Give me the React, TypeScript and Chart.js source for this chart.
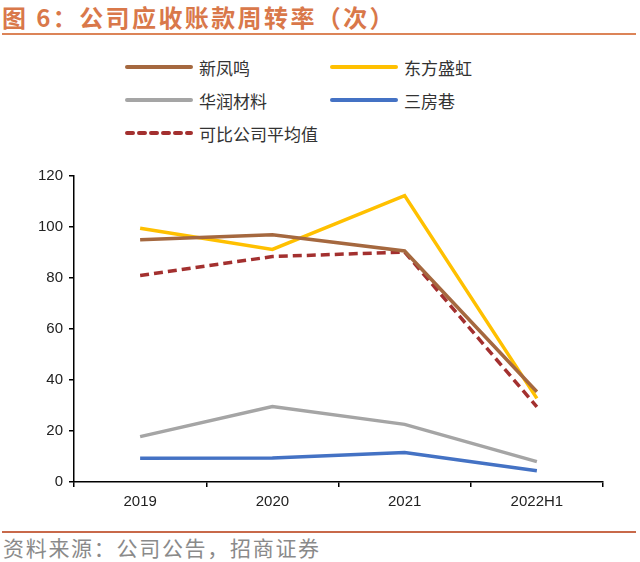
import React, { useEffect, useRef } from "react";
import { Chart, registerables } from "chart.js";

Chart.register(...registerables);

const categories = ["2019", "2020", "2021", "2022H1"];
const xinfengming = [95, 97, 90.6, 35.4];
const dongfangshenghong = [99.5, 91.2, 112.3, 32.8];
const huarun = [17.8, 29.6, 22.6, 8];
const sanfangxiang = [9.3, 9.4, 11.6, 4.4];
const average = [81, 88.4, 90.2, 29.5];
const yTicks = [0, 20, 40, 60, 80, 100, 120];

const seriesNames = ["新凤鸣", "东方盛虹", "华润材料", "三房巷", "可比公司平均值"];
const seriesColors = ["#A5683F", "#FFC000", "#A5A5A5", "#4472C4", "#A3302F"];

const CJK = '"Noto Sans CJK SC", "Noto Sans", sans-serif';

export default function App() {
  const ref = useRef<HTMLCanvasElement | null>(null);

  useEffect(() => {
    if (!ref.current) return;
    const data = [xinfengming, dongfangshenghong, huarun, sanfangxiang, average];
    const chart = new Chart(ref.current, {
      type: "line",
      data: {
        labels: categories,
        datasets: data.map((d, i) => ({
          label: seriesNames[i],
          data: d,
          borderColor: seriesColors[i],
          backgroundColor: seriesColors[i],
          borderWidth: 3.5,
          borderDash: i === 4 ? [9, 5] : [],
          pointRadius: 0,
          tension: 0,
          fill: false,
        })),
      },
      options: {
        animation: false,
        responsive: false,
        maintainAspectRatio: false,
        layout: { padding: { left: 0, right: 17, top: 26, bottom: 0 } },
        plugins: { legend: { display: false }, tooltip: { enabled: false } },
        scales: {
          x: {
            offset: true,
            grid: {
              offset: true,
              drawOnChartArea: false,
              drawTicks: true,
              tickLength: 5,
              color: "#000",
              lineWidth: 1.5,
            },
            border: { display: true, color: "#000", width: 1.5 },
            ticks: {
              color: "#222",
              font: { family: '"Liberation Sans", Arial, sans-serif', size: 15 },
              padding: 6,
              maxRotation: 0,
            },
            afterFit: (s: any) => {
              s.height = 38;
            },
          },
          y: {
            min: 0,
            max: 120,
            afterBuildTicks: (s: any) => {
              s.ticks = yTicks.map((v) => ({ value: v }));
            },
            grid: {
              drawOnChartArea: false,
              drawTicks: true,
              tickLength: 5,
              color: "#000",
              lineWidth: 1.5,
            },
            border: { display: true, color: "#000", width: 1.5 },
            ticks: {
              color: "#222",
              font: { family: '"Liberation Sans", Arial, sans-serif', size: 15 },
              padding: 6,
            },
            afterFit: (s: any) => {
              s.width = 74;
            },
          },
        },
      },
    });
    return () => chart.destroy();
  }, []);

  const legendItem = (i: number, left: number, top: number) => (
    <div
      key={i}
      style={{ position: "absolute", left, top, height: 24, display: "flex", alignItems: "center" }}
    >
      <svg width={68} height={8} style={{ display: "block" }}>
        <line
          x1={2}
          y1={4}
          x2={66}
          y2={4}
          stroke={seriesColors[i]}
          strokeWidth={4}
          strokeLinecap="round"
          strokeDasharray={i === 4 ? "6 6" : undefined}
        />
      </svg>
      <span style={{ marginLeft: 6, fontFamily: CJK, fontSize: 17, color: "#333" }}>
        {seriesNames[i]}
      </span>
    </div>
  );

  return (
    <div
      style={{
        position: "fixed",
        left: 0,
        top: 0,
        width: 640,
        height: 562,
        background: "#fff",
        overflow: "hidden",
      }}
    >
      <div
        style={{
          position: "absolute",
          left: 2,
          top: 1,
          fontFamily: CJK,
          fontWeight: 700,
          fontSize: 24,
          letterSpacing: 2.4,
          color: "#D9784A",
          whiteSpace: "nowrap",
          lineHeight: "32px",
        }}
      >
        图 6：公司应收账款周转率（次）
      </div>
      <div
        style={{
          position: "absolute",
          left: 2,
          top: 33,
          width: 634,
          height: 2,
          background: "#DC8458",
        }}
      />
      {legendItem(0, 125, 55)}
      {legendItem(1, 330, 55)}
      {legendItem(2, 125, 88)}
      {legendItem(3, 330, 88)}
      {legendItem(4, 125, 121)}
      <canvas
        ref={ref}
        width={620}
        height={370}
        style={{ position: "absolute", left: 0, top: 150, width: 620, height: 370 }}
      />
      <div
        style={{
          position: "absolute",
          left: 2,
          top: 531,
          width: 634,
          height: 2,
          background: "#C8694A",
        }}
      />
      <div
        style={{
          position: "absolute",
          left: 3,
          top: 533,
          fontFamily: CJK,
          fontSize: 21,
          letterSpacing: 1.7,
          color: "#8a8a8a",
          whiteSpace: "nowrap",
          lineHeight: "28px",
        }}
      >
        资料来源：公司公告，招商证券
      </div>
    </div>
  );
}
